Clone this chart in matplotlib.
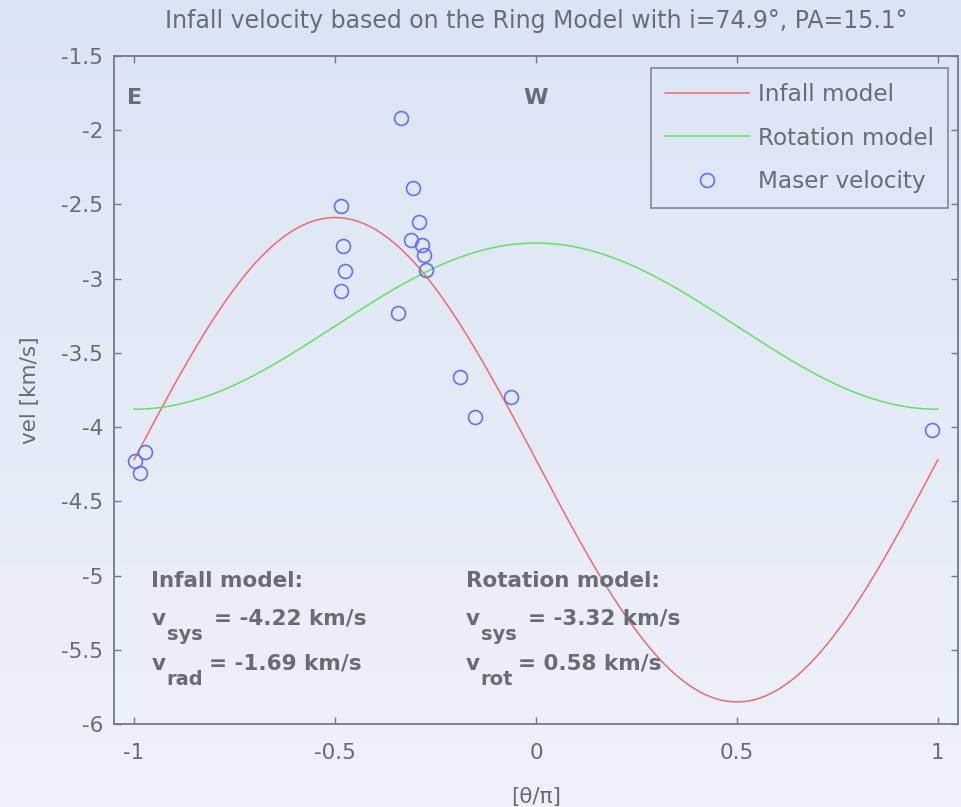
import numpy as np
import matplotlib
matplotlib.use("Agg")
import matplotlib.pyplot as plt

plt.rcParams['font.family'] = ['DejaVu Sans']
plt.rcParams['axes.unicode_minus'] = False

# fitted ring model parameters
incl_deg = 74.9
pa_deg = 15.1
v_sys_inf = -4.22
v_rad = -1.69
v_sys_rot = -3.32
v_rot = 0.58

# maser spots: position angle on the ring (theta/pi) and velocity (km/s)
maser_theta = [-0.337, -0.305, -0.486, -0.290, -0.310, -0.284, -0.278, -0.273,
               -0.480, -0.474, -0.485, -0.343, -0.189, -0.152, -0.062,
               -0.973, -0.997, -0.985, 0.985]
maser_vel = [-1.92, -2.39, -2.51, -2.62, -2.74, -2.77, -2.84, -2.94,
             -2.78, -2.95, -3.08, -3.23, -3.66, -3.93, -3.80,
             -4.17, -4.23, -4.31, -4.02]

TXT = '#686c75'
AX = '#737985'

theta = np.linspace(-1, 1, 400)
sin_i = np.sin(np.radians(incl_deg))
v_infall = v_sys_inf + v_rad * sin_i * np.sin(np.pi * theta)
v_rotation = v_sys_rot + v_rot * sin_i * np.cos(np.pi * theta)

fig = plt.figure(figsize=(9.62, 8.07), dpi=100)

# soft vertical gradient behind everything
bg = fig.add_axes([0, 0, 1, 1], zorder=-10)
top = np.array([218, 229, 244]) / 255
bot = np.array([238, 241, 249]) / 255
t = np.linspace(0, 1, 256)[:, None, None]
grad = top * (1 - t) + bot * t
bg.imshow(np.repeat(grad, 2, axis=1), aspect='auto', extent=(0, 1, 0, 1))
bg.axis('off')

ax = fig.add_axes([0.1185, 0.1029, 0.8773, 0.8277])
ax.patch.set_alpha(0)

ax.plot(theta, v_infall, color='#f06a6a', lw=1.1, label='Infall model')
ax.plot(theta, v_rotation, color='#64e064', lw=1.1, label='Rotation model')
ax.plot(maser_theta, maser_vel, 'o', mfc='none', mec='#6470f6', ms=10, mew=1.2,
        label='Maser velocity')

ax.set_xlim(-1.05, 1.05)
ax.set_ylim(-6, -1.5)
ax.set_xticks([-1, -0.5, 0, 0.5, 1])
ax.set_xticklabels(['-1', '-0.5', '0', '0.5', '1'])
ax.set_yticks(np.arange(-6, -1.4, 0.5))
ax.set_yticklabels(['-6', '-5.5', '-5', '-4.5', '-4', '-3.5', '-3', '-2.5', '-2', '-1.5'])
ax.tick_params(direction='in', length=5, width=1, colors=AX, labelcolor=TXT,
               labelsize=15.5, top=True, right=True)
ax.tick_params(axis='x', pad=14)
ax.tick_params(axis='y', pad=8)
for s in ax.spines.values():
    s.set_color(AX)
    s.set_linewidth(1.3)

ax.set_xlabel('[θ/π]', fontsize=15.5, color=TXT, labelpad=17)
ax.set_ylabel('vel [km/s]', fontsize=15.5, color=TXT, labelpad=15)
ax.set_title('Infall velocity based on the Ring Model with i=%.1f°, PA=%.1f°'
             % (incl_deg, pa_deg), fontsize=17, color=TXT, pad=20)

ax.text(-1.0, -1.78, 'E', fontsize=16, fontweight='bold', color=TXT,
        ha='center', va='center')
ax.text(0.0, -1.78, 'W', fontsize=16, fontweight='bold', color=TXT,
        ha='center', va='center')

# fit summaries, subscripts drawn as separate smaller texts
fs, fsub = 15.5, 14
blocks = [
    (-0.957, -0.919, 'Infall model:',
     [('sys', '= %.2f km/s' % v_sys_inf, -0.802),
      ('rad', '= %.2f km/s' % v_rad, -0.814)]),
    (-0.175, -0.138, 'Rotation model:',
     [('sys', '= %.2f km/s' % v_sys_rot, -0.021),
      ('rot', '= %.2f km/s' % v_rot, -0.044)]),
]
line_y = [(-5.332, -5.433), (-5.635, -5.736)]
for x0, xsub, head, rows in blocks:
    ax.text(x0, -5.074, head, fontsize=fs, fontweight='bold', color=TXT, va='baseline')
    for (sub, rest, xeq), (yb, ysub) in zip(rows, line_y):
        ax.text(x0, yb, 'v', fontsize=fs, fontweight='bold', color=TXT, va='baseline')
        ax.text(xsub, ysub, sub, fontsize=fsub, fontweight='bold', color=TXT, va='baseline')
        ax.text(xeq, yb, rest, fontsize=fs, fontweight='bold', color=TXT, va='baseline')

leg = ax.legend(loc='upper right', bbox_to_anchor=(948.3 / 962, 1 - 68.3 / 807),
                bbox_transform=fig.transFigure, borderaxespad=0, fontsize=16.7,
                handlelength=3.6, handletextpad=0.4, labelspacing=0.9,
                borderpad=0.62, numpoints=1, fancybox=False)
frame = leg.get_frame()
frame.set_facecolor('none')
frame.set_edgecolor(AX)
frame.set_linewidth(1.3)
for txt in leg.get_texts():
    txt.set_color(TXT)

fig.savefig('out.png', dpi=100)
